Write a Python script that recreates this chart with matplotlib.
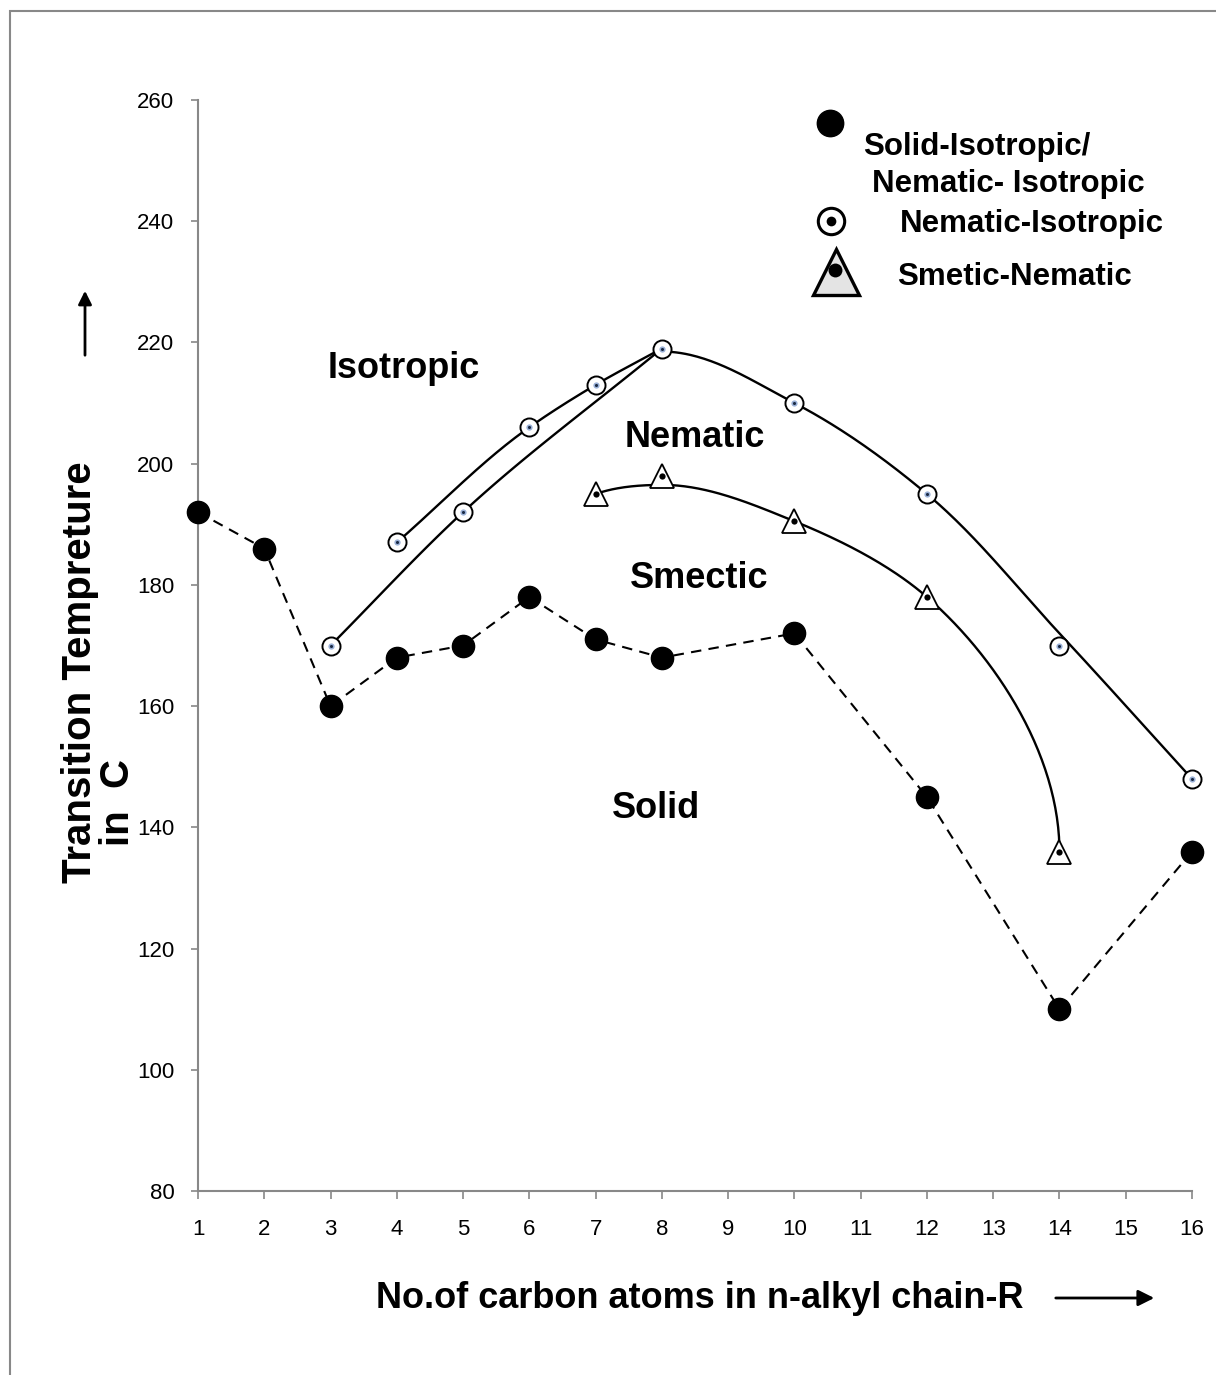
import numpy as np
import matplotlib
matplotlib.use("Agg")
import matplotlib.pyplot as plt
from matplotlib.patches import Rectangle, FancyArrowPatch
from matplotlib.lines import Line2D

plt.rcParams['font.family'] = ['Liberation Sans', 'DejaVu Sans']

# --- data
solid_x = [1, 2, 3, 4, 5, 6, 7, 8, 10, 12, 14, 16]
solid_y = [192, 186, 160, 168, 170, 178, 171, 168, 172, 145, 110, 136]

ni_x = [3, 4, 5, 6, 7, 8, 10, 12, 14, 16]
ni_y = [170, 187, 192, 206, 213, 219, 210, 195, 170, 148]

sn_x = [7, 8, 10, 12, 14]
sn_y = [195, 198, 190.5, 178, 136]

# smooth guide curves (as drawn in the source figure)
odd_x, odd_y = [3, 5, 8], [170, 192, 219]
even_x, even_y = [4, 6, 7, 8], [187, 206, 213, 219]
right_x, right_y = [8, 10, 12, 14, 16], [218.5, 210, 195, 172, 148]
smec_x = [7, 8, 10, 12, 14]
smec_y = [195, 196.5, 190.5, 178, 136]

xticks = list(range(1, 17))
yticks = list(range(80, 261, 20))

SX, SY = 66.27, 6.06   # px per data unit, keeps the curve shape isotropic


def smooth(xs, ys, d0=None, d1=None, n=60):
    # cubic Hermite through the points, chord-length parametrised in pixel space
    P = np.column_stack([np.asarray(xs, float) * SX, np.asarray(ys, float) * SY])
    seg = np.linalg.norm(np.diff(P, axis=0), axis=1)
    m = np.zeros_like(P)
    for i in range(1, len(P) - 1):
        hl, hr = seg[i - 1], seg[i]
        sl = (P[i] - P[i - 1]) / hl
        sr = (P[i + 1] - P[i]) / hr
        m[i] = (sl * hr + sr * hl) / (hl + hr)
    m[0] = (P[1] - P[0]) / seg[0]
    m[-1] = (P[-1] - P[-2]) / seg[-1]
    if d0 is not None:
        v = np.array(d0, float); m[0] = v / np.linalg.norm(v)
    if d1 is not None:
        v = np.array(d1, float); m[-1] = v / np.linalg.norm(v)
    s = np.linspace(0, 1, n)[:, None]
    h00 = 2*s**3 - 3*s**2 + 1
    h10 = s**3 - 2*s**2 + s
    h01 = -2*s**3 + 3*s**2
    h11 = s**3 - s**2
    out = []
    for k in range(len(P) - 1):
        h = seg[k]
        out.append(h00*P[k] + h10*h*m[k] + h01*P[k+1] + h11*h*m[k+1])
    C = np.vstack(out)
    return C[:, 0] / SX, C[:, 1] / SY


W, H = 1216, 1375
fig = plt.figure(figsize=(W/100, H/100), dpi=100)
ax = fig.add_axes([198/W, 1 - 1191/H, (1192-198)/W, (1191-100)/H])

# outer border (only left and top edges fall inside the picture)
fig.patches.append(Rectangle((10/W, -0.01), 1.2, 1 - 11/H + 0.01, transform=fig.transFigure,
                             fill=False, edgecolor='#888888', lw=1.5))

# curves
for cx, cy, d0, d1 in [(odd_x, odd_y, None, None),
                       (even_x, even_y, None, None),
                       (right_x, right_y, (1, 0), None),
                       (smec_x, smec_y, (1, 0.35), (0, -1))]:
    xx, yy = smooth(cx, cy, d0, d1)
    ax.plot(xx, yy, color='black', lw=1.7, zorder=2)

# solid-isotropic dashed series
ax.plot(solid_x, solid_y, color='black', lw=1.5, ls=(0, (5, 3.5)), marker='o',
        ms=16, mfc='black', mec='black', zorder=3)

# nematic-isotropic markers
ax.plot(ni_x, ni_y, ls='none', marker='o', ms=13, mfc='white', mec='black', mew=1.4, zorder=4)
ax.plot(ni_x, ni_y, ls='none', marker='o', ms=4.5, mfc='#9ab0d6', mec='none', zorder=5)
ax.plot(ni_x, ni_y, ls='none', marker='o', ms=2.2, mfc='#1a2a44', mec='none', zorder=6)

# smectic-nematic markers
ax.plot(sn_x, sn_y, ls='none', marker='^', ms=17, mfc='white', mec='black', mew=1.3, zorder=4)
ax.plot(sn_x, sn_y, ls='none', marker='o', ms=4.5, mfc='black', mec='none', zorder=5)

ax.set_xlim(1, 16)
ax.set_ylim(80, 260)
ax.set_xticks(xticks)
ax.set_yticks(yticks)
ax.tick_params(axis='both', direction='out', color='#888888', width=1.2, labelsize=16)
ax.tick_params(axis='x', length=6, pad=14)
ax.tick_params(axis='y', length=5, pad=12)
for side in ('top', 'right'):
    ax.spines[side].set_visible(False)
for side in ('left', 'bottom'):
    ax.spines[side].set_color('#888888')
    ax.spines[side].set_linewidth(1.5)
    ax.spines[side].set_zorder(1)
for ln in ax.lines:
    ln.set_clip_on(False)

# region labels
for txt, x, y in [('Isotropic', 404, 369), ('Nematic', 695, 438),
                  ('Smectic', 699, 579), ('Solid', 656, 808)]:
    fig.text(x/W, 1 - y/H, txt, ha='center', va='center', fontsize=26, fontweight='bold')

# axis titles and arrows
fig.text(700/W, 1 - 1299/H, 'No.of carbon atoms in n-alkyl chain-R', ha='center', va='center',
         fontsize=26, fontweight='bold')
fig.text(80/W, 1 - 672/H, 'Transition Tempreture', rotation=90, ha='center', va='center',
         fontsize=29, fontweight='bold')
fig.text(118/W, 1 - 803/H, 'in  C', rotation=90, ha='center', va='center',
         fontsize=29, fontweight='bold')
fig.add_artist(FancyArrowPatch((1053/W, 1 - 1298/H), (1157/W, 1 - 1298/H),
               transform=fig.transFigure, arrowstyle='-|>', mutation_scale=24, lw=2, color='black'))
fig.add_artist(FancyArrowPatch((85/W, 1 - 358/H), (85/W, 1 - 288/H),
               transform=fig.transFigure, arrowstyle='-|>', mutation_scale=20, lw=2, color='black'))

# legend (hand placed, as in the source)
fig.add_artist(Line2D([830/W], [1 - 123/H], marker='o', ms=19, mfc='black',
               mec='black', transform=fig.transFigure))
fig.add_artist(Line2D([831/W], [1 - 221/H], marker='o', ms=19, mfc='white',
               mec='black', mew=2.2, transform=fig.transFigure))
fig.add_artist(Line2D([831/W], [1 - 221/H], marker='o', ms=7, mfc='black',
               mec='none', transform=fig.transFigure))
fig.add_artist(Line2D([836/W], [1 - 272/H], marker='^', ms=33, mfc='#e4e4e4',
               mec='black', mew=2.4, transform=fig.transFigure))
fig.add_artist(Line2D([835/W], [1 - 270/H], marker='o', ms=10, mfc='black',
               mec='none', transform=fig.transFigure))
for txt, x, y in [('Solid-Isotropic/', 863, 147), ('Nematic- Isotropic', 872, 184),
                  ('Nematic-Isotropic', 900, 224), ('Smetic-Nematic', 897, 277)]:
    fig.text(x/W, 1 - y/H, txt, ha='left', va='center', fontsize=22.5, fontweight='bold')

fig.savefig('out.png', dpi=100)
